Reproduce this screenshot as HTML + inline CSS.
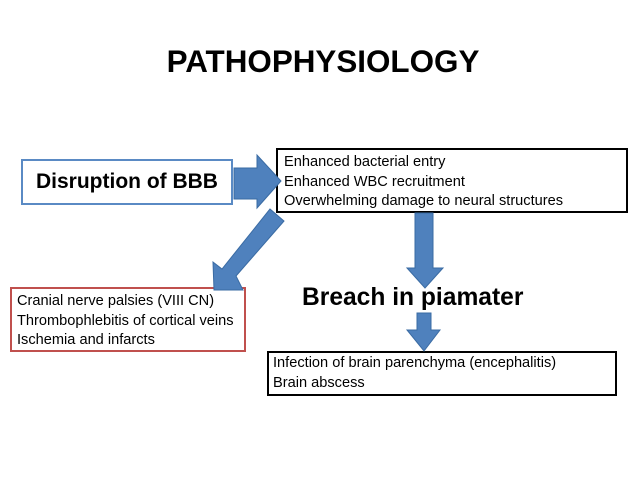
<!DOCTYPE html>
<html><head><meta charset="utf-8"><style>
body{margin:0;width:638px;height:479px;background:#fff;position:relative;overflow:hidden;font-family:"Liberation Sans",sans-serif;}
div{position:absolute;box-sizing:border-box;white-space:nowrap;}
.t{font-size:14.6px;line-height:19.5px;color:#000;}
</style></head><body>
<div style="left:0;width:646px;top:42px;text-align:center;font-weight:bold;font-size:31.4px;line-height:40px;">PATHOPHYSIOLOGY</div>
<div style="left:21px;top:159px;width:212px;height:46px;border:2px solid #5a8ac4;font-weight:bold;font-size:21px;line-height:42px;text-align:center;">Disruption of BBB</div>
<div class="t" style="left:276px;top:148px;width:352px;height:65px;border:2px solid #000;padding:3px 0 0 6px;">Enhanced bacterial entry<br>Enhanced WBC recruitment<br>Overwhelming damage to neural structures</div>
<div class="t" style="left:10px;top:287px;width:236px;height:65px;border:2px solid #c0504d;padding:3px 0 0 5px;">Cranial nerve palsies (VIII CN)<br>Thrombophlebitis of cortical veins<br>Ischemia and infarcts</div>
<div style="left:302px;top:284px;font-weight:bold;font-size:24.6px;line-height:28px;">Breach in piamater</div>
<div class="t" style="left:267px;top:351px;width:350px;height:45px;border:2px solid #000;padding:1px 0 0 4px;">Infection of brain parenchyma (encephalitis)<br>Brain abscess</div>
<svg width="638" height="479" style="position:absolute;left:0;top:0">
<g fill="#4f81bd" stroke="#3a6ba3" stroke-width="1">
<polygon points="234,168 257,168 257,155 281,181 257,208 257,199 234,199"/>
<polygon points="415,213 433,213 433,268 443,268 425,288 407,268 415,268"/>
<polygon points="417,313 431,313 431,330 440,330 424,351 407,330 417,330"/>
<polygon points="270,209 284,221 236,276 243,290 214,290 213,262 222,269"/>
</g></svg>
</body></html>
